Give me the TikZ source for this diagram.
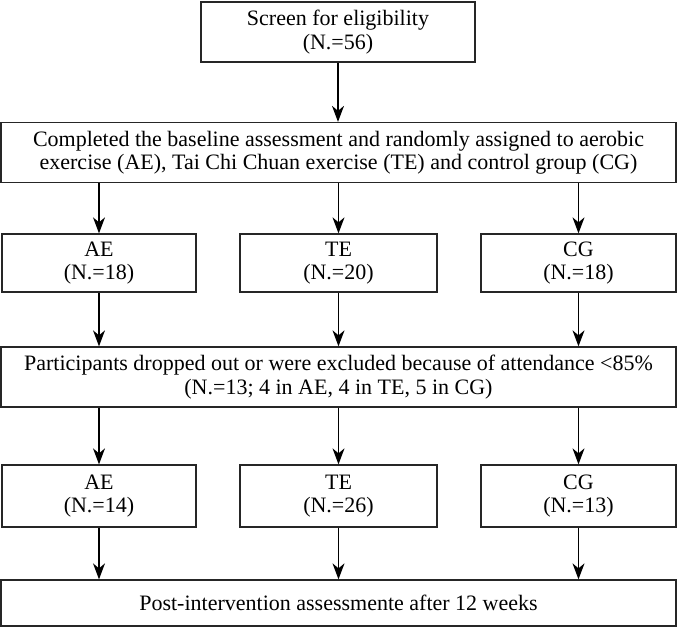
\documentclass[tikz,border=0pt]{standalone}
\usepackage{fontspec}
\setmainfont{Liberation Serif}
\usetikzlibrary{arrows.meta}
\begin{document}
\begin{tikzpicture}[x=1pt,y=-1pt,
  box/.style={draw=black!85, line width=1.3pt, inner sep=0pt, align=center,
    font=\fontsize{22}{23.5}\selectfont},
  arr/.style={line width=1.3pt, -{Stealth[length=16pt,width=12pt,inset=5pt]}}]
\useasboundingbox (0,0) rectangle (677,628);
\node[box, minimum width=274pt, minimum height=60pt] (top) at (338,32) {Screen for eligibility\\(N.=56)};
\node[box, minimum width=675pt, minimum height=60pt] (w1) at (338.5,152.5) {Completed the baseline assessment and randomly assigned to aerobic\\exercise (AE), Tai Chi Chuan exercise (TE) and control group (CG)};
\node[box, minimum width=194pt, minimum height=58pt] (ae1) at (99,263) {AE\\(N.=18)};
\node[box, minimum width=197pt, minimum height=58pt] (te1) at (338.5,263) {TE\\(N.=20)};
\node[box, minimum width=195pt, minimum height=58pt] (cg1) at (578.5,263) {CG\\(N.=18)};
\node[box, minimum width=675pt, minimum height=60pt] (w2) at (338.5,377) {Participants dropped out or were excluded because of attendance <85\%\\(N.=13; 4 in AE, 4 in TE, 5 in CG)};
\node[box, minimum width=194pt, minimum height=62pt] (ae2) at (99,496) {AE\\(N.=14)};
\node[box, minimum width=197pt, minimum height=62pt] (te2) at (338.5,496) {TE\\(N.=26)};
\node[box, minimum width=195pt, minimum height=62pt] (cg2) at (578.5,496) {CG\\(N.=13)};
\node[box, minimum width=675pt, minimum height=46pt] (bot) at (338.5,603) {Post-intervention assessmente after 12 weeks};
\draw[arr] (top.south) -- (top.south |- w1.north);
\foreach \n in {ae1,te1,cg1}{
  \draw[arr] (\n.north |- w1.south) -- (\n.north);
  \draw[arr] (\n.south) -- (\n.south |- w2.north);
}
\foreach \n in {ae2,te2,cg2}{
  \draw[arr] (\n.north |- w2.south) -- (\n.north);
  \draw[arr] (\n.south) -- (\n.south |- bot.north);
}
\end{tikzpicture}
\end{document}
